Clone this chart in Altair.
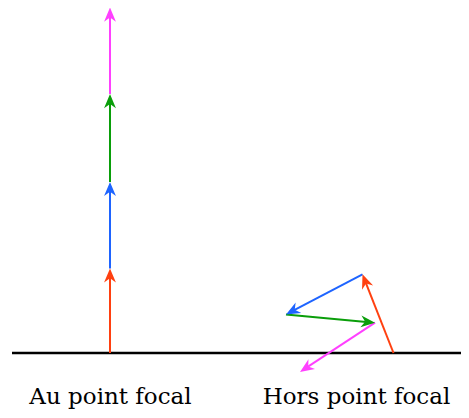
import math
import altair as alt
import pandas as pd

# Phasor diagram data (units ~ reference pixels, y measured upward from the baseline)
series = ["1", "2", "3", "4"]
colors = ["#FF4010", "#1E64FF", "#0A9E0A", "#FF40FF"]

left_origin = [110, 0]
left_dx = [0, 0, 0, 0]
left_dy = [86.5, 88.5, 90, 88.5]

right_origin = [393.5, 0]
right_dx = [-31, -76.5, 89, -75]
right_dy = [80.5, -41, -8.5, -50]

baseline_x = [12, 461]
labels = ["Au point focal", "Hors point focal"]
label_x = [110.5, 356.5]
label_y = [-51, -51]


def build(origin, dxs, dys):
    rows = []
    x, y = origin
    for name, dx, dy in zip(series, dxs, dys):
        L = math.hypot(dx, dy)
        ux, uy = dx / L, dy / L
        tx, ty = x + dx, y + dy
        ang = math.degrees(math.atan2(dx, dy)) % 360
        rows.append(dict(name=name, x0=x, y0=y, x1=tx - ux * 6, y1=ty - uy * 6,
                         tx=tx, ty=ty, angle=ang))
        x, y = tx, ty
    return rows


df = pd.DataFrame(build(left_origin, left_dx, left_dy) + build(right_origin, right_dx, right_dy))
base_df = pd.DataFrame({"x0": [baseline_x[0]], "x1": [baseline_x[1]], "y": [0]})
lab_df = pd.DataFrame({"label": labels, "x": label_x, "y": label_y})

xs = alt.Scale(domain=[8, 461], range=[0, 453], nice=False, zero=False)
ys = alt.Scale(domain=[-57, 0, 353], range=[402, 345, 0], nice=False, zero=False)
cs = alt.Scale(domain=series, range=colors)

segments = alt.Chart(df).mark_rule(strokeWidth=2).encode(
    x=alt.X("x0:Q", scale=xs, axis=None),
    y=alt.Y("y0:Q", scale=ys, axis=None),
    x2="x1:Q",
    y2="y1:Q",
    color=alt.Color("name:N", scale=cs, legend=None),
)

heads = alt.Chart(df).mark_point(
    shape="M0,0 L0.42,1 L0,0.7 L-0.42,1 Z", filled=True, opacity=1, size=800, strokeWidth=0
).encode(
    x=alt.X("tx:Q", scale=xs, axis=None),
    y=alt.Y("ty:Q", scale=ys, axis=None),
    angle=alt.Angle("angle:Q", scale=None),
    color=alt.Color("name:N", scale=cs, legend=None),
)

base = alt.Chart(base_df).mark_rule(strokeWidth=2.5, color="black").encode(
    x=alt.X("x0:Q", scale=xs, axis=None),
    x2="x1:Q",
    y=alt.Y("y:Q", scale=ys, axis=None),
)

text = alt.Chart(lab_df).mark_text(
    font="DejaVu Serif", fontSize=23, baseline="alphabetic", align="center", color="black"
).encode(
    x=alt.X("x:Q", scale=xs, axis=None),
    y=alt.Y("y:Q", scale=ys, axis=None),
    text="label:N",
)

chart = alt.layer(base, segments, heads, text).properties(
    width=453, height=402, autosize=alt.AutoSizeParams(type="none"), padding=0
).configure_view(stroke=None)

chart.save("out.html", embed_options={"renderer": "svg", "actions": False})
